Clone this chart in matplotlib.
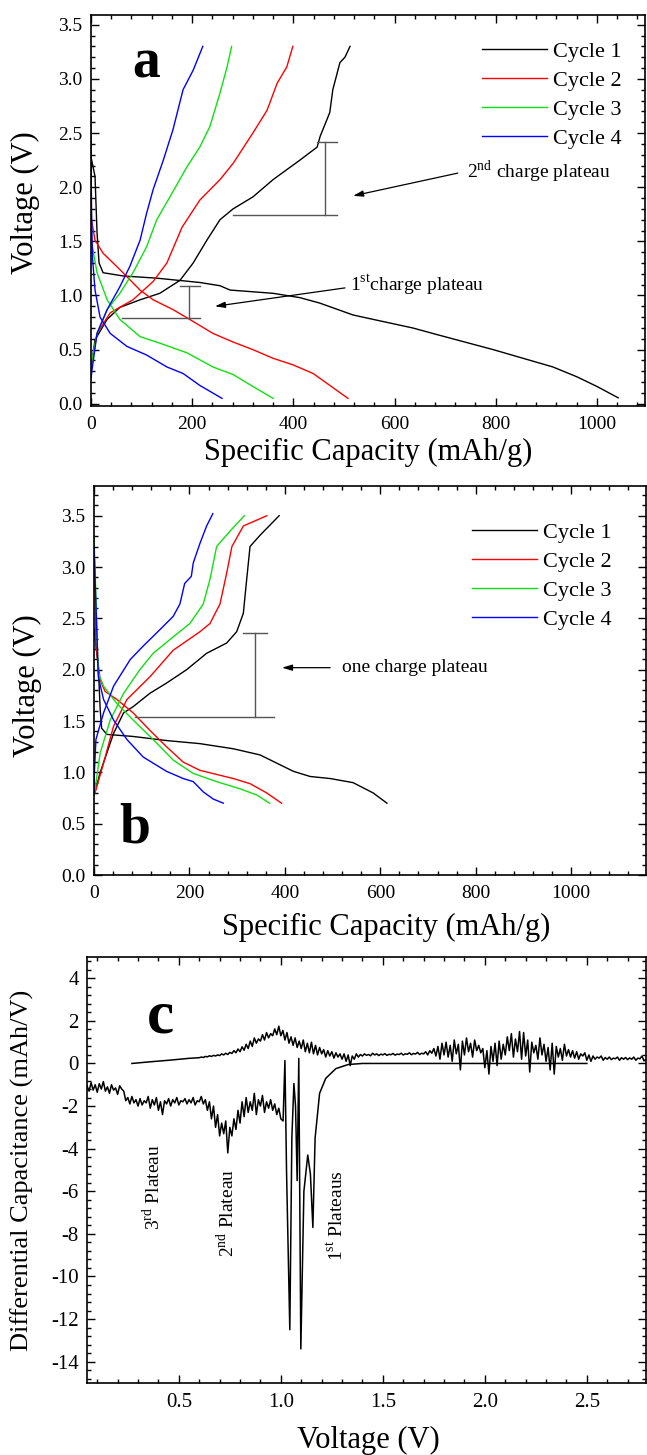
import numpy as np
import matplotlib
matplotlib.use('Agg')
import matplotlib.pyplot as plt
from matplotlib.ticker import MultipleLocator, AutoMinorLocator, FormatStrFormatter

plt.rcParams['font.family'] = ['Liberation Serif', 'DejaVu Serif']
plt.rcParams['mathtext.fontset'] = 'custom'
plt.rcParams['mathtext.rm'] = 'Liberation Serif'
plt.rcParams['mathtext.bf'] = 'Liberation Serif:bold'
plt.rcParams['axes.unicode_minus'] = False

colors = ['black', '#ff0000', '#10e010', '#0000ff']
labels = ['Cycle 1', 'Cycle 2', 'Cycle 3', 'Cycle 4']

# ---- panel a: capacity (mAh/g) vs voltage (V)
a_dis_x = [
    [0, 8, 12, 16, 24, 64, 130, 215, 255, 275, 360, 413, 452, 518, 557, 636, 683, 795, 913, 960, 1000, 1042],
    [0, 1, 8, 24, 57, 97, 123, 162, 202, 241, 281, 320, 360, 399, 439, 466, 508],
    [0, 1, 12, 32, 57, 97, 136, 190, 241, 281, 320, 360],
    [0, 1, 3, 8, 18, 38, 71, 110, 150, 182, 215, 259],
]
a_dis_v = [
    [2.28, 2.10, 1.58, 1.30, 1.21, 1.18, 1.16, 1.12, 1.09, 1.05, 1.02, 0.98, 0.93, 0.82, 0.78, 0.70, 0.64, 0.50, 0.34, 0.25, 0.16, 0.055],
    [2.65, 1.70, 1.51, 1.39, 1.24, 1.05, 0.96, 0.87, 0.76, 0.65, 0.57, 0.50, 0.42, 0.36, 0.28, 0.19, 0.05],
    [2.55, 1.50, 1.21, 0.96, 0.78, 0.62, 0.56, 0.47, 0.34, 0.27, 0.16, 0.05],
    [2.47, 1.80, 1.35, 1.05, 0.80, 0.65, 0.53, 0.45, 0.34, 0.28, 0.17, 0.05],
]
a_chg_x = [
    [0, 2, 8, 32, 57, 97, 136, 176, 202, 229, 255, 281, 320, 360, 413, 447, 453, 466, 472, 478, 492, 502, 512],
    [0, 2, 12, 38, 83, 123, 150, 180, 215, 255, 281, 320, 348, 368, 387, 399],
    [0, 2, 12, 32, 57, 83, 110, 130, 156, 190, 215, 235, 255, 269, 278],
    [0, 2, 12, 32, 57, 77, 97, 110, 123, 143, 162, 182, 202, 221],
]
a_chg_v = [
    [0.30, 0.39, 0.59, 0.78, 0.89, 0.96, 1.02, 1.14, 1.30, 1.51, 1.70, 1.80, 1.91, 2.07, 2.25, 2.37, 2.47, 2.62, 2.69, 2.90, 3.15, 3.20, 3.30],
    [0.30, 0.38, 0.65, 0.84, 0.96, 1.13, 1.30, 1.63, 1.88, 2.07, 2.22, 2.50, 2.71, 2.96, 3.11, 3.30],
    [0.28, 0.40, 0.65, 0.87, 1.02, 1.21, 1.45, 1.70, 1.91, 2.19, 2.37, 2.56, 2.87, 3.11, 3.30],
    [0.23, 0.31, 0.65, 0.87, 1.08, 1.27, 1.51, 1.76, 1.98, 2.25, 2.53, 2.90, 3.08, 3.30],
]

# ---- panel b
b_dis_x = [
    [0, 2, 9, 13, 16, 27, 82, 152, 222, 292, 348, 383, 418, 453, 495, 543, 585, 614],
    [0, 4, 13, 23, 48, 82, 117, 152, 187, 222, 292, 327, 362, 393],
    [0, 9, 20, 48, 82, 124, 166, 208, 257, 306, 341, 368],
    [0, 9, 20, 41, 69, 103, 124, 152, 187, 208, 229, 250, 271],
]
b_dis_v = [
    [2.40, 2.32, 2.03, 1.61, 1.43, 1.37, 1.35, 1.31, 1.28, 1.23, 1.17, 1.09, 1.01, 0.96, 0.94, 0.90, 0.80, 0.70],
    [3.30, 2.23, 1.90, 1.79, 1.71, 1.58, 1.41, 1.25, 1.10, 1.02, 0.94, 0.89, 0.80, 0.70],
    [3.30, 1.97, 1.84, 1.67, 1.51, 1.32, 1.12, 0.99, 0.91, 0.84, 0.78, 0.70],
    [3.20, 1.93, 1.71, 1.51, 1.32, 1.15, 1.09, 1.01, 0.94, 0.91, 0.81, 0.74, 0.70],
]
b_chg_x = [
    [0, 2, 13, 27, 41, 62, 82, 117, 152, 194, 236, 278, 299, 313, 320, 327, 348, 388],
    [0, 2, 20, 41, 69, 117, 166, 222, 243, 264, 278, 289, 313, 362],
    [0, 2, 13, 34, 62, 96, 124, 166, 201, 229, 243, 257, 285, 315],
    [0, 1, 4, 20, 41, 76, 103, 138, 166, 180, 190, 204, 208, 222, 236, 249],
]
b_chg_v = [
    [0.78, 0.81, 1.00, 1.19, 1.38, 1.58, 1.64, 1.77, 1.87, 2.00, 2.16, 2.26, 2.37, 2.55, 2.88, 3.20, 3.31, 3.50],
    [0.78, 0.80, 1.09, 1.45, 1.71, 1.93, 2.19, 2.37, 2.45, 2.64, 2.94, 3.20, 3.40, 3.50],
    [0.78, 0.83, 1.19, 1.51, 1.77, 2.00, 2.16, 2.32, 2.45, 2.64, 2.88, 3.20, 3.35, 3.50],
    [0.80, 1.02, 1.32, 1.58, 1.84, 2.10, 2.23, 2.39, 2.52, 2.64, 2.84, 2.91, 3.04, 3.23, 3.40, 3.52],
]

# ---- panel c: differential capacitance (mAh/V) vs voltage (V)
c_up_start_v = [0.27, 0.35, 0.45, 0.55]
c_up_start_dq = [0.00, 0.07, 0.15, 0.24]
c_up_v = np.round(np.arange(0.60, 2.795, 0.01), 2)
c_up_dq = [
    0.27, 0.30, 0.28, 0.33, 0.31, 0.36, 0.33, 0.38, 0.35, 0.40,
    0.37, 0.45, 0.40, 0.48, 0.42, 0.52, 0.47, 0.60, 0.50, 0.68,
    0.55, 0.78, 0.62, 0.90, 0.70, 1.05, 0.80, 1.20, 0.95, 1.15,
    1.05, 1.35, 1.10, 1.45, 1.20, 1.40, 1.30, 1.62, 1.35, 1.75,
    1.30, 1.55, 1.10, 1.45, 0.95, 1.25, 0.85, 1.20, 0.75, 1.05,
    0.70, 1.10, 0.55, 0.95, 0.50, 1.00, 0.45, 0.85, 0.40, 0.75,
    0.45, 0.65, 0.30, 0.60, 0.35, 0.55, 0.25, 0.50, 0.30, 0.45,
    0.20, 0.45, 0.10, 0.40, -0.10, 0.35, 0.20, 0.45, 0.30, 0.42,
    0.35, 0.45, 0.38, 0.42, 0.36, 0.48, 0.40, 0.45, 0.37, 0.44,
    0.40, 0.46, 0.38, 0.43, 0.41, 0.47, 0.39, 0.44, 0.42, 0.48,
    0.40, 0.45, 0.43, 0.50, 0.41, 0.47, 0.44, 0.52, 0.42, 0.48,
    0.45, 0.55, 0.40, 0.60, 0.48, 0.70, 0.35, 0.80, 0.20, 0.95,
    0.40, 1.00, 0.30, 0.85, 0.10, 1.10, 0.45, 0.90, -0.30, 1.05,
    0.40, 1.20, 0.55, 0.95, 0.30, 1.10, 0.60, 0.85, 0.50, 0.70,
    -0.20, 0.60, -0.50, 0.80, 0.10, 0.95, -0.10, 1.05, 0.20, 0.90,
    0.40, 1.25, 0.60, 1.40, 0.30, 1.15, 0.55, 1.50, 0.20, 1.45,
    0.35, 1.10, -0.40, 1.00, 0.50, 0.85, 0.20, 1.20, 0.40, 0.90,
    0.10, 0.75, -0.30, 0.95, -0.50, 0.80, 0.30, 0.70, 0.15, 0.90,
    0.35, 0.65, 0.30, 0.60, 0.25, 0.55, 0.20, 0.45, 0.35, 0.50,
    0.15, 0.40, 0.10, 0.35, 0.20, 0.30, 0.25, 0.35, 0.15, 0.28,
    0.20, 0.30, 0.18, 0.25, 0.22, 0.30, 0.15, 0.27, 0.20, 0.28,
    0.18, 0.26, 0.20, 0.30, 0.15, 0.25, 0.22, 0.35, 0.12, 0.20,
]
c_low_v = np.round(np.arange(0.05, 1.005, 0.01), 2)
c_low_dq = [
    -1.05, -1.30, -0.90, -1.25, -1.00, -1.35, -0.95, -1.20, -0.85, -1.30,
    -1.10, -1.40, -1.00, -1.25, -1.15, -1.45, -1.05, -1.20, -1.30, -1.75,
    -1.60, -1.90, -1.55, -1.85, -1.70, -2.00, -1.65, -1.95, -1.75, -1.85,
    -1.55, -2.10, -1.70, -1.95, -1.60, -2.20, -1.80, -2.40, -1.75, -1.90,
    -1.65, -2.00, -1.70, -1.85, -1.60, -1.95, -1.75, -1.80, -1.65, -1.90,
    -1.70, -1.85, -1.60, -1.95, -1.75, -1.80, -1.55, -1.90, -1.70, -2.20,
    -1.80, -2.60, -2.00, -3.00, -2.40, -3.40, -2.80, -3.30, -2.70, -4.20,
    -3.00, -3.40, -2.60, -3.10, -2.20, -2.80, -1.80, -2.50, -1.60, -2.30,
    -1.80, -2.20, -1.40, -2.40, -1.70, -2.00, -1.50, -2.30, -1.80, -2.10,
    -1.70, -2.20, -1.90, -2.40, -2.10, -2.60,
]
c_peak_v = [1.011, 1.020, 1.028, 1.044, 1.054, 1.064, 1.072, 1.080, 1.088, 1.098,
            1.113, 1.132, 1.145, 1.157, 1.168, 1.190, 1.220, 1.270, 1.330, 1.400, 2.500]
c_peak_dq = [-2.70, 0.14, -5.10, -12.50, -3.50, -0.94, -2.00, -5.50, 0.24, -13.40,
             -6.00, -4.30, -5.20, -7.70, -3.50, -1.40, -0.70, -0.24, -0.05, 0.00, 0.00]

fig = plt.figure(figsize=(6.47, 14.55), dpi=100)
ax_a = fig.add_axes([0.1406, 0.7210, 0.8563, 0.2687])
ax_b = fig.add_axes([0.1453, 0.3986, 0.8532, 0.2674])
ax_c = fig.add_axes([0.1345, 0.0495, 0.8640, 0.2928])


def style(ax, fs):
    for s in ax.spines.values():
        s.set_linewidth(1.2)
    ax.xaxis.set_minor_locator(AutoMinorLocator(5))
    ax.yaxis.set_minor_locator(AutoMinorLocator(5))
    ax.tick_params(which='both', direction='in', top=True, right=True, width=1.0, labelsize=fs)
    ax.tick_params(which='major', length=6)
    ax.tick_params(which='minor', length=3)
    ax.tick_params(axis='x', pad=7)
    ax.tick_params(axis='y', pad=6)


# panel a
for i in range(4):
    ax_a.plot(a_dis_x[i], a_dis_v[i], color=colors[i], lw=1.0, label=labels[i])
    ax_a.plot(a_chg_x[i], a_chg_v[i], color=colors[i], lw=1.0)
ax_a.set_xlim(0, 1095)
ax_a.set_ylim(-0.02, 3.59)
ax_a.xaxis.set_major_locator(MultipleLocator(200))
ax_a.yaxis.set_major_locator(MultipleLocator(0.5))
ax_a.yaxis.set_major_formatter(FormatStrFormatter('%.1f'))
style(ax_a, 14)
ax_a.set_xlabel('Specific Capacity (mAh/g)', fontsize=22, va='center')
ax_a.xaxis.set_label_coords(0.50, -0.12)
ax_a.set_ylabel('Voltage (V)', fontsize=22, va='center')
ax_a.yaxis.set_label_coords(-0.119, 0.52)
ax_a.legend(loc='upper left', bbox_to_anchor=(0.706, 0.932), frameon=False, fontsize=16,
            handlelength=2.9, handletextpad=0.3, labelspacing=0.38, borderpad=0, borderaxespad=0)
ax_a.text(0.10, 0.877, 'a', transform=ax_a.transAxes, fontsize=40, fontweight='bold',
          ha='center', va='center')
gray = '#555555'
ax_a.plot([447, 486], [2.42, 2.42], color=gray, lw=1)
ax_a.plot([462, 462], [2.42, 1.74], color=gray, lw=1)
ax_a.plot([281, 486], [1.74, 1.74], color=gray, lw=1)
ax_a.plot([176, 215], [1.09, 1.09], color=gray, lw=1)
ax_a.plot([194, 194], [1.09, 0.79], color=gray, lw=1)
ax_a.plot([61, 215], [0.79, 0.79], color=gray, lw=1)
arr = dict(arrowstyle='-|>,head_length=0.6,head_width=0.18', color='black', lw=0.9, shrinkA=0, shrinkB=0)
ax_a.annotate('', xy=(518, 1.92), xytext=(725, 2.13), arrowprops=arr)
ax_a.annotate('', xy=(245, 0.90), xytext=(502, 1.07), arrowprops=arr)
ax_a.text(743, 2.14, r'2$^{\rm nd}$ charge plateau', fontsize=14, ha='left', va='center')
ax_a.text(512, 1.10, r'1$^{\rm st}$charge plateau', fontsize=14, ha='left', va='center')

# panel b
for i in range(4):
    ax_b.plot(b_dis_x[i], b_dis_v[i], color=colors[i], lw=1.0, label=labels[i])
    ax_b.plot(b_chg_x[i], b_chg_v[i], color=colors[i], lw=1.0)
ax_b.set_xlim(0, 1157)
ax_b.set_ylim(0, 3.79)
ax_b.xaxis.set_major_locator(MultipleLocator(200))
ax_b.yaxis.set_major_locator(MultipleLocator(0.5))
ax_b.yaxis.set_major_formatter(FormatStrFormatter('%.1f'))
style(ax_b, 14)
ax_b.set_xlabel('Specific Capacity (mAh/g)', fontsize=22, va='center')
ax_b.xaxis.set_label_coords(0.53, -0.134)
ax_b.set_ylabel('Voltage (V)', fontsize=22, va='center')
ax_b.yaxis.set_label_coords(-0.121, 0.488)
ax_b.legend(loc='upper left', bbox_to_anchor=(0.685, 0.906), frameon=False, fontsize=16,
            handlelength=2.9, handletextpad=0.3, labelspacing=0.38, borderpad=0, borderaxespad=0)
ax_b.text(0.074, 0.12, 'b', transform=ax_b.transAxes, fontsize=40, fontweight='bold',
          ha='center', va='center')
ax_b.plot([312, 363], [2.36, 2.36], color=gray, lw=1)
ax_b.plot([337, 337], [2.36, 1.54], color=gray, lw=1)
ax_b.plot([86, 377], [1.54, 1.54], color=gray, lw=1)
ax_b.annotate('', xy=(394, 2.02), xytext=(495, 2.02), arrowprops=arr)
ax_b.text(520, 2.02, 'one charge plateau', fontsize=14, ha='left', va='center')

# panel c
ax_c.plot(list(c_up_start_v) + list(c_up_v), list(c_up_start_dq) + list(c_up_dq), color='black', lw=1.1)
ax_c.plot(list(c_low_v) + c_peak_v, list(c_low_dq) + c_peak_dq, color='black', lw=1.1)
ax_c.set_xlim(0.05, 2.79)
ax_c.set_ylim(-15, 5)
ax_c.xaxis.set_major_locator(MultipleLocator(0.5))
ax_c.xaxis.set_major_formatter(FormatStrFormatter('%.1f'))
ax_c.yaxis.set_major_locator(MultipleLocator(2))
style(ax_c, 15)
ax_c.set_xlabel('Voltage (V)', fontsize=22, va='center')
ax_c.xaxis.set_label_coords(0.503, -0.134)
ax_c.set_ylabel('Differential Capacitance (mAh/V)', fontsize=19, va='center')
ax_c.yaxis.set_label_coords(-0.116, 0.498)
ax_c.text(0.132, 0.857, 'c', transform=ax_c.transAxes, fontsize=44, fontweight='bold',
          ha='center', va='center')
ax_c.text(0.37, -5.8, r'3$^{\rm rd}$ Plateau', rotation=90, fontsize=14, ha='center', va='center')
ax_c.text(0.735, -7.0, r'2$^{\rm nd}$ Plateau', rotation=90, fontsize=14, ha='center', va='center')
ax_c.text(1.27, -7.15, r'1$^{\rm st}$ Plateaus', rotation=90, fontsize=14, ha='center', va='center')

fig.savefig('out.png', dpi=100)
